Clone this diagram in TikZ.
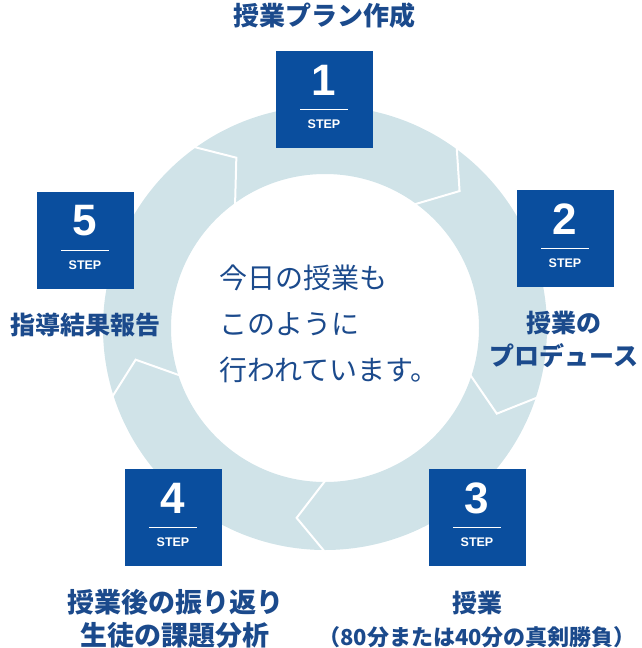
\documentclass[tikz,border=0pt]{standalone}
\usepackage{fontspec}
\setmainfont{Noto Sans CJK JP}
\newfontfamily\stepfont{Liberation Sans}
\usetikzlibrary{positioning,calc}
\definecolor{boxblue}{HTML}{0A4E9E}
\definecolor{textblue}{HTML}{1B4A8C}
\definecolor{ringcol}{HTML}{D0E3E8}

\tikzset{
  stepbox/.style={fill=boxblue, minimum size=97pt, inner sep=0pt},
  steplabel/.style={text=textblue, font=\fontsize{25}{33}\selectfont\bfseries, align=center},
}
\newcommand{\stepmark}[4]{% name, x, y, number
  \node[stepbox] (#1) at (#2,#3) {};
  \node[text=white, font=\stepfont\fontsize{44}{44}\selectfont\bfseries] at ([yshift=19pt]#1.center) {#4};
  \draw[white, line width=0.8pt] ([xshift=-24pt,yshift=-10pt]#1.center) -- ([xshift=24pt,yshift=-10pt]#1.center);
  \node[text=white, font=\stepfont\fontsize{12.5}{12}\selectfont\bfseries] at ([yshift=-25pt]#1.center) {STEP};
}

\begin{document}
\begin{tikzpicture}[x=1pt, y=-1pt]
        \useasboundingbox (0,0) rectangle (641,648);
        \coordinate (c) at (325,328);

        % ring
        \fill[ringcol, even odd rule] (c) circle (222) (c) circle (154);
        \foreach \a in {54,-18,-90,-162,126} {
          \draw[white, line width=2pt, line join=miter]
            ($(c)+(-\a:224)$) -- ($(c)+(8.5-\a:192)$) -- ($(c)+(-\a:153)$);
        }

        % steps
        \stepmark{s1}{324}{99}{1}
        \stepmark{s2}{565}{238}{2}
        \stepmark{s3}{477}{517}{3}
        \stepmark{s4}{173}{517}{4}
        \stepmark{s5}{85}{240}{5}

        \node[steplabel, font=\fontsize{26}{33}\selectfont\bfseries] (l1) at (324,16) {授業プラン作成};
        \node[steplabel] (l2) at (564,339) {授業の\\プロデュース};
        \node[steplabel] (l3) at (477,619) {授業\\{\fontsize{22}{33}\selectfont （80分または40分の真剣勝負）}};
        \node[steplabel, font=\fontsize{27}{33}\selectfont\bfseries] (l4) at (175,619) {授業後の振り返り\\生徒の課題分析};
        \node[steplabel] (l5) at (85,325) {指導結果報告};

        \node[text=textblue, font=\fontsize{28}{46}\selectfont, align=left, anchor=west] (msg) at (216,324) {今日の授業も\\このように\\行われています。};
    \end{tikzpicture}
\end{document}
